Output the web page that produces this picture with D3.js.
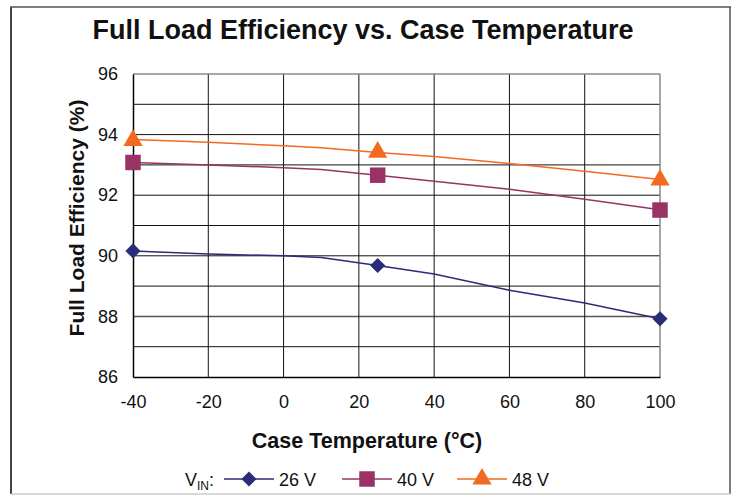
<!DOCTYPE html>
<html>
<head>
<meta charset="utf-8">
<script src="https://cdn.jsdelivr.net/npm/d3@7/dist/d3.min.js"></script>
<style>
  html, body { margin: 0; padding: 0; background: #fff; }
  svg { display: block; font-family: "Liberation Sans", Arial, Helvetica, sans-serif; }
</style>
</head>
<body>
<svg id="chart" width="739" height="495"></svg>
<script>
// ---- Data ----
const fitTemps = [-40, -20, 0, 10, 25, 40, 60, 80, 100];
const fit26 = [90.16, 90.06, 90.00, 89.94, 89.68, 89.40, 88.86, 88.44, 87.92];
const fit40 = [93.08, 93.00, 92.91, 92.85, 92.66, 92.46, 92.20, 91.87, 91.52];
const fit48 = [93.84, 93.75, 93.63, 93.57, 93.41, 93.28, 93.05, 92.79, 92.52];

const markerTemps = [-40, 25, 100];
const meas26 = [90.16, 89.68, 87.92];
const meas40 = [93.08, 92.66, 91.51];
const meas48 = [93.81, 93.42, 92.50];

const seriesNames = ["26 V", "40 V", "48 V"];
const xTicks = [-40, -20, 0, 20, 40, 60, 80, 100];
const yTicks = [86, 88, 90, 92, 94, 96];
const yGrid = [87, 88, 89, 90, 91, 92, 93, 94, 95];

const colors = ["#2b2c77", "#993366", "#f26a21"];
const symbols = [d3.symbolSquare, d3.symbolSquare, d3.symbolTriangle];
const symRot = [45, 0, 0];
const symSizes = [115, 240, 160];

// ---- Layout ----
const svg = d3.select("#chart");
const L = 133, R = 660, T = 74, B = 377;
const x = d3.scaleLinear().domain([-40, 100]).range([L, R]);
const y = d3.scaleLinear().domain([86, 96]).range([B, T]);

// outer frame
svg.append("line").attr("x1", 11).attr("x2", 11).attr("y1", 7).attr("y2", 494).attr("stroke", "#444").attr("stroke-width", 2);
svg.append("line").attr("x1", 10).attr("x2", 731).attr("y1", 7).attr("y2", 7).attr("stroke", "#555").attr("stroke-width", 1.5);
svg.append("line").attr("x1", 730).attr("x2", 730).attr("y1", 7).attr("y2", 494).attr("stroke", "#555").attr("stroke-width", 1.5);
svg.append("line").attr("x1", 11).attr("x2", 730).attr("y1", 494).attr("y2", 494).attr("stroke", "#ccc").attr("stroke-width", 1.5);

// title
svg.append("text").attr("x", 363).attr("y", 39).attr("text-anchor", "middle")
  .attr("font-size", 27).attr("font-weight", "bold").attr("fill", "#111")
  .text("Full Load Efficiency vs. Case Temperature");

// gridlines
const g = svg.append("g");
g.selectAll(".hg").data(yGrid).enter().append("line")
  .attr("x1", L).attr("x2", R).attr("y1", d => y(d)).attr("y2", d => y(d))
  .attr("stroke", d => d === 88 ? "#555" : "#111").attr("stroke-width", d => d === 88 ? 1.5 : 1);
g.selectAll(".vg").data(xTicks.slice(1, -1)).enter().append("line")
  .attr("x1", d => x(d)).attr("x2", d => x(d)).attr("y1", T).attr("y2", B)
  .attr("stroke", "#111").attr("stroke-width", 1);
// plot border
g.append("line").attr("x1", L).attr("x2", R).attr("y1", T).attr("y2", T).attr("stroke", "#888").attr("stroke-width", 1.5);
g.append("line").attr("x1", R).attr("x2", R).attr("y1", T).attr("y2", B).attr("stroke", "#888").attr("stroke-width", 1.5);

// axes
const fmt = d => String(d);
const yAxis = svg.append("g").attr("transform", `translate(${L},0)`)
  .call(d3.axisLeft(y).tickValues(yTicks).tickSize(0).tickPadding(15).tickFormat(fmt));
const xAxis = svg.append("g").attr("transform", `translate(0,${B})`)
  .call(d3.axisBottom(x).tickValues(xTicks).tickSize(0).tickPadding(18).tickFormat(fmt));
[yAxis, xAxis].forEach(a => {
  a.select(".domain").attr("stroke", "#000").attr("stroke-width", 1.5);
  a.selectAll("text").attr("font-size", 18).attr("fill", "#111")
    .attr("font-family", "Liberation Sans, Arial, sans-serif");
});

// axis titles
svg.append("text").attr("x", 367).attr("y", 448).attr("text-anchor", "middle")
  .attr("font-size", 21.5).attr("font-weight", "bold").attr("fill", "#111")
  .text("Case Temperature (°C)");
svg.append("text").attr("transform", "translate(84,218) rotate(-90)").attr("text-anchor", "middle")
  .attr("font-size", 21).attr("font-weight", "bold").attr("fill", "#111")
  .text("Full Load Efficiency (%)");

// lines
const fits = [fit26, fit40, fit48];
const meas = [meas26, meas40, meas48];
const line = d3.line().x(d => x(d[0])).y(d => y(d[1]));
fits.forEach((vals, i) => {
  svg.append("path").datum(fitTemps.map((t, j) => [t, vals[j]]))
    .attr("d", line).attr("fill", "none").attr("stroke", colors[i]).attr("stroke-width", 1.5);
});
meas.forEach((vals, i) => {
  svg.append("g").selectAll("path").data(markerTemps.map((t, j) => [t, vals[j]])).enter()
    .append("path")
    .attr("d", d3.symbol().type(symbols[i]).size(symSizes[i]))
    .attr("transform", d => `translate(${x(d[0])},${y(d[1])}) rotate(${symRot[i]})`)
    .attr("fill", colors[i]);
});

// legend
const leg = svg.append("g");
const vt = leg.append("text").attr("x", 185).attr("y", 486).attr("font-size", 18).attr("fill", "#111");
vt.append("tspan").text("V");
vt.append("tspan").attr("font-size", 12).attr("dy", 4).text("IN");
vt.append("tspan").attr("dy", -4).text(":");
const legX = [224, 342, 457];
seriesNames.forEach((name, i) => {
  const lx = legX[i];
  leg.append("line").attr("x1", lx).attr("x2", lx + 50).attr("y1", 479).attr("y2", 479)
    .attr("stroke", colors[i]).attr("stroke-width", 1.5);
  leg.append("path").attr("d", d3.symbol().type(symbols[i]).size(symSizes[i]))
    .attr("transform", `translate(${lx + 25},479) rotate(${symRot[i]})`).attr("fill", colors[i]);
  leg.append("text").attr("x", lx + 55).attr("y", 486).attr("font-size", 18).attr("fill", "#111").text(name);
});
</script>
</body>
</html>
